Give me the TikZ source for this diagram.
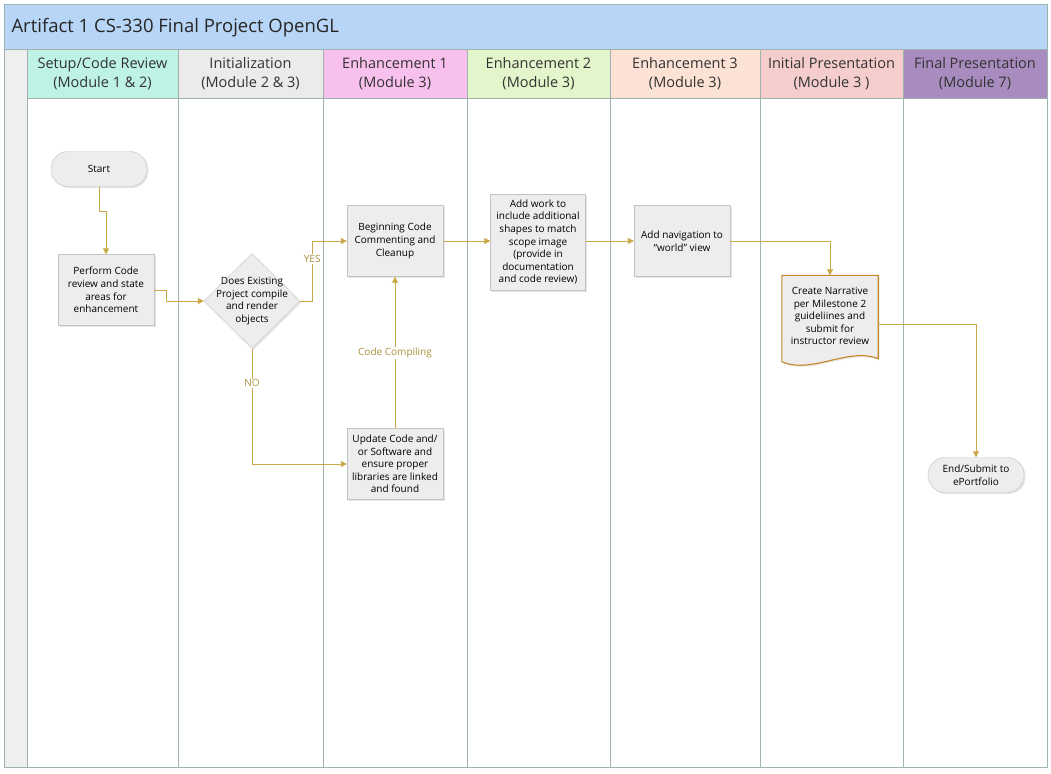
\documentclass[tikz,border=0pt]{standalone}
\usepackage{fontspec}
\setmainfont{Open Sans}
\usetikzlibrary{positioning,calc,arrows.meta,shapes.geometric,shadows}

\definecolor{titleblue}{HTML}{B7D5F6}
\definecolor{lanecyan}{HTML}{BDF2E4}
\definecolor{lanegray}{HTML}{EBEBEB}
\definecolor{lanepink}{HTML}{F8C0EC}
\definecolor{lanegreen}{HTML}{E3F5CB}
\definecolor{lanepeach}{HTML}{FBE2D4}
\definecolor{lanerose}{HTML}{F5CDCD}
\definecolor{lanepurple}{HTML}{A98CBF}
\definecolor{frameline}{HTML}{9FB2AE}
\definecolor{flowgold}{HTML}{C9A845}
\definecolor{boxfill}{HTML}{EDEDED}
\definecolor{boxline}{HTML}{C3C3C3}
\definecolor{docline}{HTML}{C8862A}

\begin{document}
\begin{tikzpicture}[x=1pt,y=-1pt,
    lane/.style={draw=frameline, line width=0.8pt},
    head/.style={align=center, text=black!80, font=\fontsize{14.5}{19}\selectfont},
    stepbox/.style={rectangle, draw=boxline, fill=boxfill, minimum width=96pt, minimum height=71pt,
      inner sep=1pt, align=center, font=\fontsize{10}{12.6}\selectfont,
      drop shadow={opacity=0.2, shadow xshift=1.5pt, shadow yshift=-1.5pt}},
    terminal/.style={stepbox, rounded corners=17pt, minimum height=35pt},
    decision/.style={diamond, draw=boxline, fill=boxfill, minimum width=96pt, minimum height=95pt,
      inner sep=0pt, drop shadow={opacity=0.2, shadow xshift=1.5pt, shadow yshift=-1.5pt}},
    flow/.style={draw=flowgold, line width=0.9pt, -{Triangle[width=6pt,length=6pt]}},
    flowlabel/.style={fill=white, text=flowgold!85!black, inner sep=1pt, font=\fontsize{10}{12}\selectfont}
  ]
  \useasboundingbox (0,0) rectangle (1051,773);

  % frame, title bar and left strip
  \fill[white] (4,4) rectangle (1047,767);
  \filldraw[lane, fill=titleblue] (4,4) rectangle (1047,49);
  \filldraw[lane, fill=lanegray!80!white] (4,49) rectangle (27,767);
  \node[anchor=west, font=\fontsize{18.5}{22}\selectfont, text=black!85] (title) at (8,28) {Artifact 1 CS-330 Final Project OpenGL};

  % swim lanes
  \foreach \xa/\xb/\col/\txt [count=\i] in {
      27/178/lanecyan/{Setup/Code Review\\(Module 1 \& 2)},
      178/323/lanegray/{Initialization\\(Module 2 \& 3)},
      323/467/lanepink/{Enhancement 1\\(Module 3)},
      467/610/lanegreen/{Enhancement 2\\(Module 3)},
      610/760/lanepeach/{Enhancement 3\\(Module 3)},
      760/903/lanerose/{Initial Presentation\\(Module 3 )},
      903/1047/lanepurple/{Final Presentation\\(Module 7)}} {
    \filldraw[lane, fill=\col] (\xa,49) rectangle (\xb,98);
    \draw[lane] (\xa,98) rectangle (\xb,767);
    \node[head] (head\i) at ({(\xa+\xb)/2},73.5) {\txt};
  }

  % steps
  \node[terminal] (start) at (99,169) {Start};
  \node[stepbox] (perform) at (106,290) {Perform Code\\review and state\\areas for\\enhancement};
  \node[decision, label={[align=center, font=\fontsize{10}{12.6}\selectfont]center:Does Existing\\Project compile\\and render\\objects}] (check) at (252,301) {};
  \node[stepbox] (begin) at (395,241) {Beginning Code\\Commenting and\\Cleanup};
  \node[stepbox] (update) at (395,464) {Update Code and/\\or Software and\\ensure proper\\libraries are linked\\and found};
  \node[stepbox, minimum width=95pt, minimum height=96pt] (addwork) at (538,242) {Add work to\\include additional\\shapes to match\\scope image\\(provide in\\documentation\\and code review)};
  \node[stepbox] (nav) at (682,241) {Add navigation to\\“world” view};
  \node[minimum width=96pt, minimum height=85pt, inner sep=1pt] (narr) at (830,318) {};
  \node[terminal] (end) at (976,475) {End/Submit to\\ePortfolio};

  % document outline behind its text
  \filldraw[draw=docline, fill=boxfill, line width=1.1pt,
    drop shadow={opacity=0.2, shadow xshift=1.5pt, shadow yshift=-1.5pt}]
    (narr.north west) -- (narr.north east) -- ($(narr.south east)+(0,-2)$)
    .. controls ($(narr.south east)+(-30,-14)$) and ($(narr.south west)+(30,14)$) .. ($(narr.south west)+(0,1)$) -- cycle;
  \node[align=center, font=\fontsize{10}{12.6}\selectfont] (narrtext) at ($(narr.center)+(0,-2)$) {Create Narrative\\per Milestone 2\\guideliines and\\submit for\\instructor review};

  % connectors
  \draw[flow] (start.south) -- ++(0,25) -| (perform.north);
  \draw[flow] (perform.east) -- ++(12,0) |- (check.west);
  \draw[flow] (check.east) -- ++(12,0) |- node[pos=0.35, flowlabel] {YES} (begin.west);
  \draw[flow] (check.south) |- node[pos=0.15, flowlabel] {NO} (update.west);
  \draw[flow] (update.north) -- node[midway, flowlabel] {Code Compiling} (begin.south);
  \draw[flow] (begin.east) -- (addwork.west |- begin.east);
  \draw[flow] (addwork.east |- nav.west) -- (nav.west);
  \draw[flow] (nav.east) -| (narr.north);
  \draw[flow] ($(narr.east)+(0,6)$) -| (end.north);
\end{tikzpicture}
\end{document}
